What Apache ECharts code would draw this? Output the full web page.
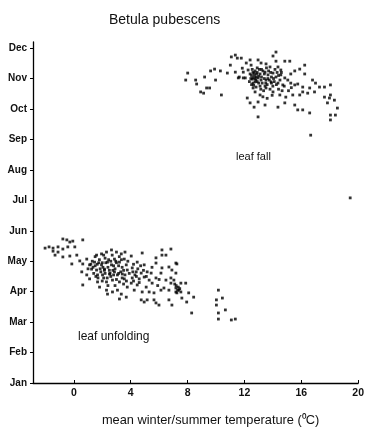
<!DOCTYPE html>
<html>
<head>
<meta charset="utf-8">
<script src="https://cdn.jsdelivr.net/npm/echarts@6/dist/echarts.min.js"></script>
<style>html,body{margin:0;padding:0;background:#fff;}#c{width:367px;height:434px;}</style>
</head>
<body>
<div id="c"></div>
<script>
var titleText = 'Betula pubescens';
var xAxisName = 'mean winter/summer temperature (\u2070C)';
var monthLabels = ['Jan','Feb','Mar','Apr','May','Jun','Jul','Aug','Sep','Oct','Nov','Dec'];
var monthValues = [1,2,3,4,5,6,7,8,9,10,11,12];
var xTickValues = [0,4,8,12,16,20];

// leaf unfolding: [temperature, month (1=Jan)]
var leafUnfolding = [
[-2.02,5.43],[-1.74,5.47],[-1.46,5.43],[-0.77,5.73],[-0.49,5.70],[-0.28,5.63],[-0.07,5.66],[0.63,5.70],[-1.46,5.33],[-1.11,5.47],[-1.11,5.30],[-0.77,5.40],[-0.42,5.47],[0.07,5.47],[-1.32,5.20],[-0.77,5.14],[-0.28,5.17],[0.21,5.20],[0.42,5.01],[-0.14,4.91],[0.63,4.91],[0.91,5.07],[1.11,4.88],[1.46,4.97],[1.60,5.20],[1.95,5.24],[2.30,5.30],[2.65,5.37],[3.00,5.30],[3.34,5.24],[1.25,4.74],[1.60,4.71],[1.95,4.88],[2.16,4.74],[2.37,4.97],[2.65,4.88],[2.86,5.07],[3.21,4.97],[3.55,5.07],[3.69,4.88],[0.56,4.65],[0.91,4.55],[1.11,4.42],[1.67,4.55],[2.02,4.55],[2.51,4.58],[2.86,4.65],[3.07,4.55],[3.41,4.58],[3.76,4.71],[1.67,4.32],[1.81,4.15],[2.30,4.32],[2.72,4.38],[3.21,4.32],[3.55,4.42],[0.63,4.22],[2.37,3.92],[2.72,3.99],[3.07,4.05],[3.34,3.92],[3.69,3.82],[3.21,3.76],[3.76,4.15],
[1.3,5.0],[1.5,4.85],[1.8,5.05],[2.0,4.95],[2.2,5.1],[2.4,4.8],[2.6,5.0],[2.8,4.85],[3.0,4.95],[3.2,5.15],[3.4,4.8],[1.4,4.6],[1.9,4.65],[2.2,4.6],[2.5,4.7],[2.9,4.75],[3.3,4.65],[3.6,4.55],[1.7,4.45],[2.1,4.45],[2.6,4.5],[3.0,4.4],[3.4,4.45],[2.4,4.2],[2.9,4.2],[3.5,4.25],[1.2,4.9],[2.1,5.2],[2.7,5.2],[3.8,5.0],[3.9,4.6],[1.0,4.75],[1.5,5.15],[2.3,4.05],[3.6,5.3],
[1.35,4.8],[1.65,4.9],[1.85,4.75],[2.05,4.8],[2.25,4.95],[2.45,5.05],[2.55,4.6],[2.75,4.7],[2.95,5.0],[3.15,4.85],[3.35,5.05],[3.5,4.7],[1.55,4.5],[2.0,4.35],[2.35,4.45],[2.8,4.55],[3.15,4.6],[3.7,4.35],[1.75,4.95],[2.15,4.7],
[4.81,5.27],[4.04,5.17],[4.46,4.97],[4.95,4.88],[5.78,5.11],[5.78,4.94],[6.20,5.37],[6.20,5.20],[6.48,5.20],[6.83,5.40],[7.18,4.94],[7.25,4.91],[4.11,4.78],[4.39,4.65],[4.74,4.61],[5.16,4.65],[5.44,4.61],[6.13,4.61],[6.20,4.78],[6.69,4.81],[6.90,4.71],[4.11,4.45],[4.60,4.42],[4.95,4.48],[5.30,4.38],[5.78,4.45],[6.48,4.38],[6.83,4.45],[7.04,4.38],[7.18,4.61],[4.04,4.28],[4.46,4.22],[5.09,4.15],[5.51,4.28],[6.83,4.28],[7.53,4.28],[7.87,4.28],[4.25,4.05],[4.81,3.99],[5.30,3.99],[5.64,3.96],[6.13,4.05],[6.34,4.12],[6.69,4.05],[7.18,4.12],[7.39,4.05],[7.18,3.99],[7.25,3.96],[7.53,3.99],[8.08,3.96],[8.43,3.82],[7.60,3.79],[7.94,3.66],[6.69,3.73],[4.74,3.73],[4.95,3.66],[5.16,3.73],[5.64,3.73],[5.78,3.63],[5.99,3.56],[6.90,3.56],[8.29,3.30],[10.17,4.05],[10.03,3.73],[10.45,3.79],[10.03,3.56],[10.66,3.40],[10.17,3.30],[10.17,3.10],[11.08,3.07],[11.36,3.10],
[4.2,4.9],[4.3,4.55],[4.5,4.75],[4.7,4.85],[4.2,4.35],[4.4,4.5],[4.6,4.3],[4.9,4.7],[5.1,4.5],[4.15,4.65],[7.2,4.2],[7.35,4.15],[7.45,4.1],[7.3,4.05],[7.1,4.25],[5.5,4.8],[6.0,4.4],[5.9,4.2]
];

// leaf fall: [temperature, month (1=Jan)]
var leafFall = [
[7.87,10.95],[8.01,11.18],[8.57,10.95],[8.64,10.82],[9.20,11.05],[9.34,10.69],[9.55,10.69],[8.92,10.56],[9.13,10.52],[9.62,11.25],[9.90,11.31],[9.97,10.95],[10.31,11.25],[10.38,10.46],[10.80,11.18],[11.01,11.44],[11.08,11.71],[11.36,11.77],[11.50,11.67],[11.36,11.21],[11.64,11.05],[11.78,11.67],[11.85,11.34],[11.92,11.21],[12.06,11.02],[12.13,11.51],[12.26,11.28],[12.40,11.61],[12.47,11.44],[12.61,11.02],[12.68,11.18],[12.75,10.89],[12.82,11.05],[12.96,11.02],[13.10,11.15],[13.17,10.95],[12.96,11.61],[13.17,11.51],[12.82,10.72],[12.61,10.69],[12.75,10.56],[12.20,10.36],[12.40,10.20],[12.68,10.06],[12.96,10.23],[13.10,10.46],[12.96,9.74],[11.92,11.02],[11.57,11.02],
[12.5,11.1],[12.55,10.98],[12.7,11.1],[12.85,11.15],[12.9,10.9],[13.0,10.85],[12.6,10.85],[12.45,11.0],[12.35,10.9],[12.75,11.25],[13.05,11.3],[12.9,11.35],[12.55,11.3],[12.65,10.78],[12.8,10.95],[13.0,11.08],
[12.4,11.15],[12.6,11.2],[12.75,11.0],[12.9,11.2],[13.1,10.75],[13.2,11.3],[13.4,11.15],[13.5,10.85],[13.65,11.0],[13.85,11.2],[14.05,11.0],[14.25,10.8],[14.4,11.1],[13.15,10.65],[13.45,10.75],[13.9,10.85],[14.6,11.2],[12.5,10.8],
[14.22,11.87],[14.01,11.74],[14.22,11.57],[14.84,11.57],[15.19,11.57],[13.52,11.48],[13.80,11.38],[14.36,11.38],[14.56,11.28],[16.24,11.44],[15.89,11.31],[15.54,11.25],[15.26,11.15],[16.24,11.15],[13.45,11.21],[13.66,11.12],[14.01,11.18],[14.22,11.05],[14.56,11.12],[14.84,11.02],[15.05,10.95],[13.52,10.95],[13.87,10.89],[14.36,10.85],[14.70,10.79],[15.26,10.85],[15.54,10.79],[15.75,10.82],[16.10,10.72],[16.79,10.95],[17.00,10.85],[17.28,10.72],[17.63,10.72],[18.05,10.79],[16.59,10.69],[16.93,10.56],[13.52,10.69],[14.01,10.56],[14.49,10.46],[14.91,10.39],[15.40,10.46],[15.89,10.46],[16.10,10.56],[16.45,10.52],[17.63,10.39],[17.98,10.36],[18.33,10.29],[18.05,10.46],[13.45,10.13],[14.36,10.06],[14.84,10.20],[15.54,10.13],[15.75,9.97],[16.10,9.97],[16.59,9.87],[17.84,10.20],[18.54,10.03],[18.40,9.80],[18.05,9.80],[18.05,9.64],[16.66,9.14],[19.44,7.08],
[13.3,11.25],[13.4,11.0],[13.6,10.8],[13.7,11.25],[13.9,11.05],[14.1,10.9],[13.25,10.85],[13.35,10.6],[13.8,10.65],[14.0,10.75],[14.3,11.2],[14.5,10.95],[13.55,11.35],[13.2,11.05],[13.75,10.95],[14.15,11.3],[14.65,10.6],[13.95,10.45],[13.6,10.35],[13.3,10.4],[14.4,10.65],[14.8,10.75],[15.1,10.6],[15.3,10.7]
];

var chart = echarts.init(document.getElementById('c'));
var font = 'Liberation Sans, Arial, sans-serif';
chart.setOption({
  animation: false,
  backgroundColor: '#fff',
  title: {
    text: titleText, left: 104, top: 8,
    textStyle: {fontFamily: font, fontSize: 14, fontWeight: 'normal', color: '#111'}
  },
  grid: {left: 33, right: 6, top: 42, bottom: 51},
  xAxis: {
    type: 'value', min: -2.87, max: 20,
    name: xAxisName, nameLocation: 'middle', nameGap: 31,
    nameTextStyle: {fontFamily: font, fontSize: 12.8, color: '#111', padding: [0, 0, 0, 30]},
    splitLine: {show: false},
    axisLine: {show: true, onZero: false, lineStyle: {color: '#000', width: 1.3}},
    axisTick: {show: true, inside: true, length: 3, customValues: xTickValues, lineStyle: {color: '#000'}},
    axisLabel: {customValues: xTickValues, margin: 5, fontFamily: font, fontSize: 10.5, fontWeight: 'bold', color: '#111'}
  },
  yAxis: {
    type: 'value', min: 1, max: 12.2,
    splitLine: {show: false},
    axisLine: {show: true, onZero: false, lineStyle: {color: '#000', width: 1.3}},
    axisTick: {show: true, inside: false, length: 3, customValues: monthValues, lineStyle: {color: '#000'}},
    axisLabel: {
      customValues: monthValues, margin: 6, fontFamily: font, fontSize: 10, fontWeight: 'bold', color: '#111',
      formatter: function (v) { return monthLabels[Math.round(v) - 1]; }
    }
  },
  graphic: [
    {type: 'text', left: 236, top: 151, style: {text: 'leaf fall', font: '11px ' + font, fill: '#111'}},
    {type: 'text', left: 78, top: 331, style: {text: 'leaf unfolding', font: '12px ' + font, fill: '#111'}}
  ],
  series: [
    {name: 'leaf unfolding', type: 'scatter', data: leafUnfolding, symbol: 'rect', symbolSize: 2.8, itemStyle: {color: '#000'}},
    {name: 'leaf fall', type: 'scatter', data: leafFall, symbol: 'rect', symbolSize: 2.8, itemStyle: {color: '#000'}}
  ]
});
</script>
</body>
</html>
